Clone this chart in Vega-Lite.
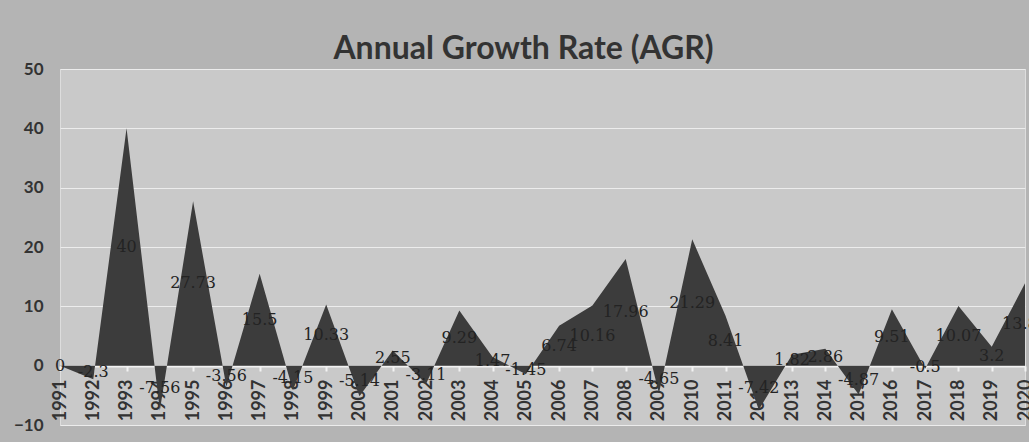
{
  "$schema": "https://vega.github.io/schema/vega-lite/v6.json",
  "autosize": "none",
  "width": 965,
  "height": 356,
  "padding": {"left": 60, "top": 69, "right": 4, "bottom": 17},
  "background": "#b4b4b4",
  "title": {
    "text": "Annual Growth Rate (AGR)",
    "fontSize": 32,
    "font": "Lato",
    "fontWeight": "bold",
    "color": "#333333",
    "offset": 4,
    "dx": -19,
    "dy": 10,
    "anchor": "middle"
  },
  "config": {
    "view": {"fill": "#c9c9c9", "stroke": "#dddddd", "strokeWidth": 1}
  },
  "data": {
    "values": [
      {"year": "1991", "agr": 0},
      {"year": "1992", "agr": -2.3},
      {"year": "1993", "agr": 40},
      {"year": "1994", "agr": -7.56},
      {"year": "1995", "agr": 27.73},
      {"year": "1996", "agr": -3.56},
      {"year": "1997", "agr": 15.5},
      {"year": "1998", "agr": -4.15},
      {"year": "1999", "agr": 10.33},
      {"year": "2000", "agr": -5.14},
      {"year": "2001", "agr": 2.55},
      {"year": "2002", "agr": -3.11},
      {"year": "2003", "agr": 9.29},
      {"year": "2004", "agr": 1.47},
      {"year": "2005", "agr": -1.45},
      {"year": "2006", "agr": 6.74},
      {"year": "2007", "agr": 10.16},
      {"year": "2008", "agr": 17.96},
      {"year": "2009", "agr": -4.65},
      {"year": "2010", "agr": 21.29},
      {"year": "2011", "agr": 8.41},
      {"year": "2012", "agr": -7.42},
      {"year": "2013", "agr": 1.82},
      {"year": "2014", "agr": 2.86},
      {"year": "2015", "agr": -4.87},
      {"year": "2016", "agr": 9.51},
      {"year": "2017", "agr": -0.5},
      {"year": "2018", "agr": 10.07},
      {"year": "2019", "agr": 3.2},
      {"year": "2020", "agr": 13.88}
    ]
  },
  "encoding": {
    "x": {
      "field": "year",
      "type": "ordinal",
      "scale": {"type": "point", "padding": 0},
      "axis": {
        "title": null,
        "offset": -59,
        "labelAngle": -90,
        "labelFont": "Lato",
        "labelFontWeight": "bold",
        "labelFontSize": 18,
        "labelColor": "#333333",
        "labelPadding": 8,
        "domainColor": "#f2f2f2",
        "domainWidth": 2,
        "tickColor": "#f2f2f2",
        "tickSize": 5,
        "tickWidth": 2,
        "grid": false
      }
    }
  },
  "layer": [
    {
      "mark": {"type": "area", "color": "#3c3c3c", "opacity": 1},
      "encoding": {
        "y": {
          "field": "agr",
          "type": "quantitative",
          "scale": {"domain": [-10, 50], "nice": false},
          "axis": {
            "title": null,
            "values": [-10, 0, 10, 20, 30, 40, 50],
            "labelFont": "Lato",
            "labelFontWeight": "bold",
            "labelFontSize": 17,
            "labelColor": "#333333",
            "labelPadding": 17,
            "ticks": false,
            "domain": false,
            "grid": true,
            "gridColor": "#ececec",
            "gridWidth": 1.2
          }
        }
      }
    },
    {
      "mark": {"type": "text", "font": "DejaVu Serif", "fontSize": 16, "color": "#232323", "baseline": "middle", "align": "center"},
      "encoding": {
        "y": {
          "field": "agr",
          "type": "quantitative",
          "scale": {"domain": [-20, 100], "nice": false},
          "axis": null
        },
        "text": {"field": "agr", "type": "nominal"}
      }
    }
  ],
  "resolve": {"scale": {"y": "independent"}}
}
